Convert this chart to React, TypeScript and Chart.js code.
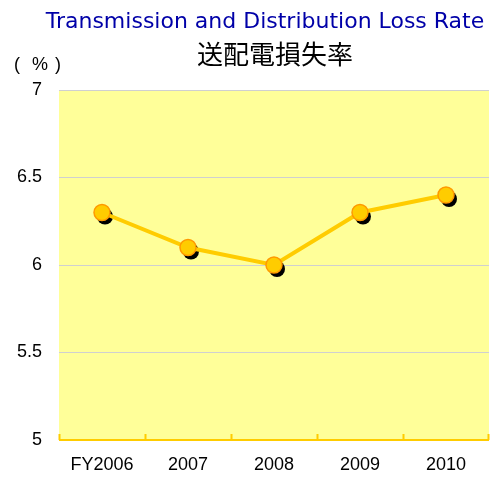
import React, { useEffect, useRef } from "react";
import { Chart, registerables } from "chart.js";

Chart.register(...registerables);

const categories = ["FY2006", "2007", "2008", "2009", "2010"];
const lossRate = [6.3, 6.1, 6.0, 6.3, 6.4];
const yTicks = [5, 5.5, 6, 6.5, 7];
const titleEn = "Transmission and Distribution Loss Rate";
const titleJa = "送配電損失率";
const unitParts = ["(", "%", ")"];

const FONT = "'Liberation Sans', Arial, sans-serif";

const decorPlugin = {
  id: "decor",
  beforeDraw(chart: any) {
    const { ctx, chartArea } = chart;
    ctx.save();
    ctx.fillStyle = "#FFFF99";
    ctx.fillRect(chartArea.left, chartArea.top, chartArea.right - chartArea.left, chartArea.bottom - chartArea.top);
    ctx.restore();
  },
  afterDraw(chart: any) {
    const { ctx, chartArea, scales } = chart;
    ctx.save();
    ctx.strokeStyle = "#FFCC00";
    ctx.lineWidth = 2;
    ctx.beginPath();
    ctx.moveTo(chartArea.left, chartArea.bottom);
    ctx.lineTo(chartArea.right, chartArea.bottom);
    for (let i = 0; i <= categories.length; i++) {
      const x = Math.round(scales.x.getPixelForValue(i - 0.5)) + (i === categories.length ? -0.5 : 0.5);
      ctx.moveTo(x, chartArea.bottom);
      ctx.lineTo(x, chartArea.bottom - 6);
    }
    ctx.stroke();
    ctx.textAlign = "center";
    ctx.textBaseline = "middle";
    ctx.fillStyle = "#0000A8";
    ctx.font = `22px 'DejaVu Sans', sans-serif`;
    ctx.fillText(titleEn, 265, 22);
    ctx.fillStyle = "#000000";
    ctx.font = `26px 'Noto Sans CJK JP', sans-serif`;
    ctx.fillText(titleJa, 275, 54);
    ctx.font = `18px ${FONT}`;
    ctx.fillText(unitParts[0], 17, 65);
    ctx.fillText(unitParts[1], 40, 65);
    ctx.fillText(unitParts[2], 58, 65);
    ctx.restore();
  },
  beforeDatasetsDraw(chart: any) {
    const { ctx } = chart;
    const meta = chart.getDatasetMeta(0);
    ctx.save();
    ctx.fillStyle = "#000000";
    meta.data.forEach((pt: any) => {
      ctx.beginPath();
      ctx.arc(pt.x + 3, pt.y + 4, 8, 0, Math.PI * 2);
      ctx.fill();
    });
    ctx.restore();
  },
};

export default function App() {
  const ref = useRef<HTMLCanvasElement>(null);
  useEffect(() => {
    const chart = new Chart(ref.current!, {
      type: "line",
      data: {
        labels: categories,
        datasets: [
          {
            data: lossRate,
            borderColor: "#FFCC00",
            borderWidth: 4,
            backgroundColor: "#FFCC00",
            pointBackgroundColor: "#FFCC00",
            pointBorderColor: "#FF9900",
            pointBorderWidth: 1.5,
            pointRadius: 8,
            tension: 0,
          },
        ],
      },
      options: {
        animation: false,
        responsive: false,
        maintainAspectRatio: false,
        layout: { autoPadding: false, padding: { top: 90, right: 1, left: 0, bottom: 0 } },
        plugins: { legend: { display: false }, tooltip: { enabled: false }, title: { display: false } },
        scales: {
          x: {
            offset: true,
            grid: { display: false },
            border: { display: false },
            ticks: { color: "#000", font: { family: FONT, size: 18 }, padding: 6 },
            afterFit: (s: any) => {
              s.height = 37;
            },
          },
          y: {
            min: 5,
            max: 7,
            afterBuildTicks: (s: any) => {
              s.ticks = yTicks.map((v) => ({ value: v }));
            },
            grid: { color: "#D0D0D0", lineWidth: 1, drawTicks: false },
            border: { display: false },
            ticks: {
              color: "#000",
              font: { family: FONT, size: 18 },
              padding: 17,
              callback: (v: any) => String(v),
            },
            afterFit: (s: any) => {
              s.width = 59;
            },
          },
        },
      },
      plugins: [decorPlugin],
    });
    return () => chart.destroy();
  }, []);
  return (
    <div style={{ position: "fixed", left: 0, top: 0, width: 490, height: 477, background: "#fff" }}>
      <canvas ref={ref} width={490} height={477} />
    </div>
  );
}
